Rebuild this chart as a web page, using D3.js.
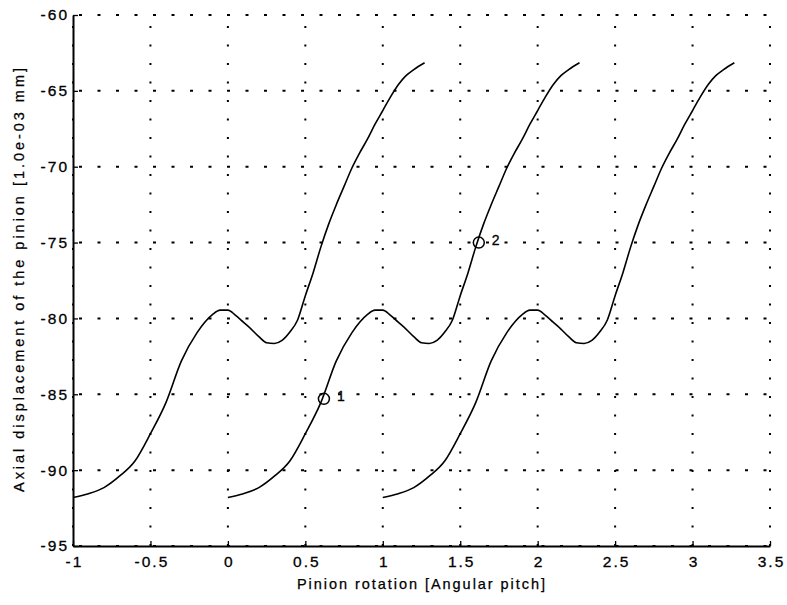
<!DOCTYPE html>
<html><head><meta charset="utf-8">
<script src="https://cdn.jsdelivr.net/npm/d3@7"></script>
<style>body{margin:0;background:#fff}svg{display:block}</style>
</head><body><svg id="c" width="787" height="605"></svg>
<script>
// one period-shaped curve (base copy), drawn shifted by copyShifts
const curveX = [-1.0,-0.9,-0.8,-0.7,-0.6,-0.5,-0.4,-0.3,-0.2,-0.1,-0.05,0.0,0.05,0.1,0.15,0.2,0.25,0.3,0.35,0.4,0.45,0.5,0.55,0.6,0.65,0.7,0.75,0.8,0.85,0.9,0.95,1.0,1.05,1.1,1.15,1.2,1.27];
const curveY = [-91.8,-91.55,-91.15,-90.4,-89.4,-87.6,-85.55,-82.8,-80.95,-79.75,-79.45,-79.45,-79.8,-80.25,-80.7,-81.2,-81.6,-81.65,-81.45,-80.9,-80.1,-78.5,-77.0,-75.3,-73.8,-72.5,-71.3,-70.1,-69.1,-68.2,-67.2,-66.3,-65.4,-64.6,-64.0,-63.6,-63.15];
const copyShifts = [0, 1, 2];
const markerX = [0.62, 1.62];
const markerY = [-85.3, -75.0];
const markerText = ["1", "2"];
const xTickValues = [-1,-0.5,0,0.5,1,1.5,2,2.5,3,3.5];
const xTickLabels = ["-1","-0.5","0","0.5","1","1.5","2","2.5","3","3.5"];
const yTickValues = [-95,-90,-85,-80,-75,-70,-65,-60];
const yTickLabels = ["-95","-90","-85","-80","-75","-70","-65","-60"];
const xTitle = "Pinion rotation [Angular pitch]";
const yTitle = "Axial displacement of the pinion [1.0e-03 mm]";

const L = 73, R = 770, T = 15, B = 546;
const font = "'Liberation Sans', Arial, Helvetica, sans-serif";
const svg = d3.select("#c");
const x = d3.scaleLinear().domain([-1, 3.5]).range([L, R]);
const y = d3.scaleLinear().domain([-95, -60]).range([B, T]);

// grid
const grid = svg.append("g").attr("stroke", "#000").attr("stroke-width", 2).attr("fill", "none");
grid.selectAll("line.v").data(xTickValues).join("line").attr("class", "v")
  .attr("x1", d => x(d)).attr("x2", d => x(d)).attr("y1", B).attr("y2", T)
  .attr("stroke-dasharray", "2,16.5");
grid.selectAll("line.h").data(yTickValues).join("line").attr("class", "h")
  .attr("y1", d => y(d)).attr("y2", d => y(d)).attr("x1", L).attr("x2", R)
  .attr("stroke-dasharray", "3,15.5").attr("stroke-dashoffset", -6);

// axes
const xa = svg.append("g").attr("transform", `translate(0,${B})`)
  .call(d3.axisBottom(x).tickValues(xTickValues).tickFormat((d, i) => xTickLabels[i]).tickSize(-5).tickSizeOuter(0).tickPadding(10));
const ya = svg.append("g").attr("transform", `translate(${L},0)`)
  .call(d3.axisLeft(y).tickValues(yTickValues).tickFormat((d, i) => yTickLabels[i]).tickSize(-5).tickSizeOuter(0).tickPadding(4));
[xa, ya].forEach(g => {
  g.select(".domain").attr("stroke", "#000").attr("stroke-width", 2);
  g.selectAll(".tick line").attr("stroke", "#000").attr("stroke-width", 1.3);
  g.selectAll("text").attr("font-family", font).attr("font-size", 15.5).attr("fill", "#000").attr("letter-spacing", "2px")
    .attr("stroke", "#000").attr("stroke-width", 0.3);
});
xa.selectAll("text").attr("dx", "1px");

// curves
const line = d3.line().x(d => x(d[0])).y(d => y(d[1])).curve(d3.curveMonotoneX);
const pts = curveX.map((v, i) => [v, curveY[i]]);
svg.append("g").selectAll("path").data(copyShifts).join("path")
  .attr("d", s => line(pts.map(p => [p[0] + s, p[1]])))
  .attr("fill", "none").attr("stroke", "#000").attr("stroke-width", 1.6).attr("stroke-linejoin", "round");

// markers
const mk = svg.append("g");
mk.selectAll("circle").data(markerX).join("circle")
  .attr("cx", d => x(d)).attr("cy", (d, i) => y(markerY[i])).attr("r", 5.5)
  .attr("fill", "none").attr("stroke", "#000").attr("stroke-width", 1.5);
mk.selectAll("text").data(markerText).join("text")
  .attr("x", (d, i) => x(markerX[i]) + 13).attr("y", (d, i) => y(markerY[i]) + 2)
  .attr("font-family", font).attr("font-size", 14).attr("stroke", "#000").attr("stroke-width", 0.3).text(d => d);

// titles
svg.append("text").attr("x", 421).attr("y", 589).attr("text-anchor", "middle")
  .attr("font-family", font).attr("font-size", 14.5).attr("stroke", "#000").attr("stroke-width", 0.25)
  .attr("textLength", 248).attr("lengthAdjust", "spacing").text(xTitle);
svg.append("text").attr("transform", "translate(24,280) rotate(-90)").attr("text-anchor", "middle")
  .attr("font-family", font).attr("font-size", 14.5).attr("stroke", "#000").attr("stroke-width", 0.25)
  .attr("textLength", 424).attr("lengthAdjust", "spacing").text(yTitle);
</script></body></html>
